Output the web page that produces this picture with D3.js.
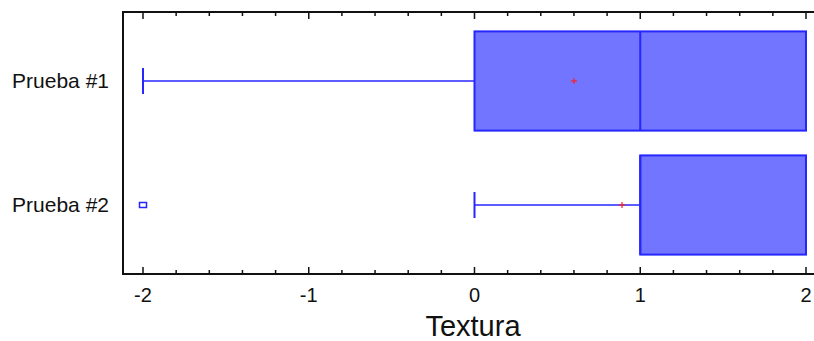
<!DOCTYPE html>
<html>
<head>
<meta charset="utf-8">
<script src="https://cdn.jsdelivr.net/npm/d3@7"></script>
<style>
  body { margin: 0; background: #fff; }
  text { font-family: "Liberation Sans", Arial, sans-serif; fill: #111; }
</style>
</head>
<body>
<div id="chart"></div>
<script>
'use strict';

// Data
const categories = ['Prueba #1', 'Prueba #2'];
const whiskerLow = [-2, 0];
const q1 = [0, 1];
const median = [1, 1];
const q3 = [2, 2];
const whiskerHigh = [2, 2];
const means = [0.6, 0.89];
const outliers = [[], [-2]];
const xTicks = [-2, -1, 0, 1, 2];
const axisTitle = 'Textura';

// Config
const W = 814, H = 341;
const plotLeft = 123, plotTop = 12, plotBottom = 274;

const svg = d3.select('#chart').append('svg')
    .attr('width', W)
    .attr('height', H);

const x = d3.scaleLinear().domain([-2, 2]).range([143, 806]);
const y = d3.scaleBand().domain(categories).range([19, 267]);
const boxH = y.bandwidth() * 0.8;
const capH = 26;

const rows = categories.map((c, i) => ({
    cat: c, lo: whiskerLow[i], q1: q1[i], med: median[i], q3: q3[i],
    hi: whiskerHigh[i], mean: means[i], out: outliers[i]
}));

// Frame
svg.append('line').attr('x1', plotLeft).attr('x2', W).attr('y1', plotTop).attr('y2', plotTop)
    .attr('stroke', '#111').attr('stroke-width', 2);
svg.append('line').attr('x1', plotLeft).attr('x2', W).attr('y1', plotBottom).attr('y2', plotBottom)
    .attr('stroke', '#111').attr('stroke-width', 2);
svg.append('line').attr('x1', plotLeft).attr('x2', plotLeft).attr('y1', plotTop - 1).attr('y2', plotBottom + 1)
    .attr('stroke', '#111').attr('stroke-width', 2);

// Ticks (top and bottom, inward)
const minor = d3.range(-2, 2.001, 0.2).map(v => Math.round(v * 10) / 10);
minor.forEach(v => {
    const major = Math.abs(v - Math.round(v)) < 1e-6;
    const len = major ? 7 : 4;
    svg.append('line').attr('x1', x(v)).attr('x2', x(v)).attr('y1', plotTop).attr('y2', plotTop + len)
        .attr('stroke', '#111').attr('stroke-width', 1.5);
    svg.append('line').attr('x1', x(v)).attr('x2', x(v)).attr('y1', plotBottom).attr('y2', plotBottom - len)
        .attr('stroke', '#111').attr('stroke-width', 1.5);
});

svg.selectAll('.tickLabel')
    .data(xTicks)
    .join('text')
    .attr('class', 'tickLabel')
    .attr('x', d => x(d))
    .attr('y', 302)
    .attr('text-anchor', 'middle')
    .style('font-size', '20px')
    .text(d => d);

svg.append('text')
    .attr('x', 473)
    .attr('y', 336)
    .attr('text-anchor', 'middle')
    .style('font-size', '29px')
    .text(axisTitle);

// Category labels
svg.selectAll('.catLabel')
    .data(categories)
    .join('text')
    .attr('class', 'catLabel')
    .attr('x', 109)
    .attr('y', d => y(d) + y.bandwidth() / 2 + 7)
    .attr('text-anchor', 'end')
    .style('font-size', '21px')
    .text(d => d);

// Boxes
const blue = '#2626ff';
svg.selectAll('.boxG')
    .data(rows)
    .join('g')
    .attr('class', 'boxG')
    .each(function(d) {
        const bg = d3.select(this);
        const cy = y(d.cat) + y.bandwidth() / 2;
        // whiskers
        if (d.lo < d.q1) {
            bg.append('line').attr('x1', x(d.lo)).attr('x2', x(d.q1)).attr('y1', cy).attr('y2', cy)
                .attr('stroke', blue).attr('stroke-width', 1.5);
            bg.append('line').attr('x1', x(d.lo)).attr('x2', x(d.lo))
                .attr('y1', cy - capH / 2).attr('y2', cy + capH / 2)
                .attr('stroke', blue).attr('stroke-width', 2);
        }
        if (d.hi > d.q3) {
            bg.append('line').attr('x1', x(d.q3)).attr('x2', x(d.hi)).attr('y1', cy).attr('y2', cy)
                .attr('stroke', blue).attr('stroke-width', 1.5);
            bg.append('line').attr('x1', x(d.hi)).attr('x2', x(d.hi))
                .attr('y1', cy - capH / 2).attr('y2', cy + capH / 2)
                .attr('stroke', blue).attr('stroke-width', 2);
        }
        // box
        bg.append('rect')
            .attr('x', x(d.q1))
            .attr('y', cy - boxH / 2)
            .attr('width', x(d.q3) - x(d.q1))
            .attr('height', boxH)
            .attr('fill', '#7275ff')
            .attr('stroke', blue)
            .attr('stroke-width', 2);
        // median
        bg.append('line').attr('x1', x(d.med)).attr('x2', x(d.med))
            .attr('y1', cy - boxH / 2).attr('y2', cy + boxH / 2)
            .attr('stroke', blue).attr('stroke-width', 2);
        // mean
        bg.append('line').attr('x1', x(d.mean) - 3).attr('x2', x(d.mean) + 3).attr('y1', cy).attr('y2', cy)
            .attr('stroke', '#ff2020').attr('stroke-width', 1.2);
        bg.append('line').attr('x1', x(d.mean)).attr('x2', x(d.mean)).attr('y1', cy - 3).attr('y2', cy + 3)
            .attr('stroke', '#ff2020').attr('stroke-width', 1.2);
        // outliers
        d.out.forEach(v => {
            bg.append('rect')
                .attr('x', x(v) - 3.5).attr('y', cy - 2.5)
                .attr('width', 7).attr('height', 5)
                .attr('fill', '#fff').attr('stroke', blue).attr('stroke-width', 1.5);
        });
    });
</script>
</body>
</html>
